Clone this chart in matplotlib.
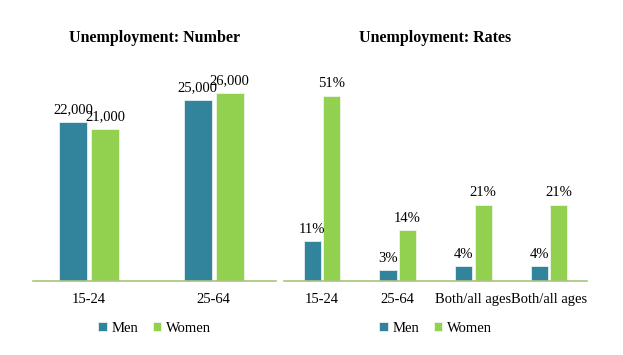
import matplotlib.pyplot as plt
import numpy as np

plt.rcParams['font.family'] = ['Liberation Serif', 'DejaVu Serif']

num_cats = ['15-24', '25-64']
num_men = [22000, 25000]
num_women = [21000, 26000]

rate_cats = ['15-24', '25-64', 'Both/all ages', 'Both/all ages']
rate_men = [11, 3, 4, 4]
rate_women = [51, 14, 21, 21]

men_color = '#31849B'
women_color = '#92D050'
axis_color = '#A8C47E'

fig = plt.figure(figsize=(6.23, 3.55), dpi=100)
ax1 = fig.add_axes([0.053, 0.2085, 0.390, 0.6225])
ax2 = fig.add_axes([0.4559, 0.2085, 0.4864, 0.6225])

w = 0.225
off = 0.1275


def draw(ax, cats, men, women, fmt):
    x = np.arange(len(cats))
    b1 = ax.bar(x - off, men, w, color=men_color, edgecolor='#E6EEF0', linewidth=0.6, label='Men')
    b2 = ax.bar(x + off, women, w, color=women_color, edgecolor='#EEF6E4', linewidth=0.6, label='Women')
    for bars, vals in ((b1, men), (b2, women)):
        for b, v in zip(bars, vals):
            ax.annotate(fmt(v), (b.get_x() + b.get_width() / 2, b.get_height()),
                        xytext=(0, 4), textcoords='offset points',
                        ha='center', va='bottom', fontsize=10.5)
    ax.set_xticks(x)
    ax.set_xticklabels(cats, fontsize=10.5)
    ax.tick_params(axis='x', length=0, pad=9)
    ax.set_yticks([])
    for s in ['top', 'right', 'left']:
        ax.spines[s].set_visible(False)
    ax.spines['bottom'].set_color(axis_color)
    ax.spines['bottom'].set_linewidth(1.2)
    ax.legend(loc='upper center', bbox_to_anchor=(0.5, -0.125), ncol=2, frameon=False,
              fontsize=10.5, handlelength=0.6, handleheight=0.6, handletextpad=0.3,
              columnspacing=1.0)


draw(ax1, num_cats, num_men, num_women, lambda v: f'{v:,}')
ax1.set_xlim(-0.45, 1.5)
ax1.set_ylim(0, 30560)
ax1.set_title('Unemployment: Number', fontsize=11.5, fontweight='bold', pad=13)

draw(ax2, rate_cats, rate_men, rate_women, lambda v: f'{v}%')
ax2.set_xlim(-0.5, 3.5)
ax2.set_ylim(0, 60.9)
ax2.set_title('Unemployment: Rates', fontsize=11.5, fontweight='bold', pad=13)

fig.savefig('out.png', dpi=100)
